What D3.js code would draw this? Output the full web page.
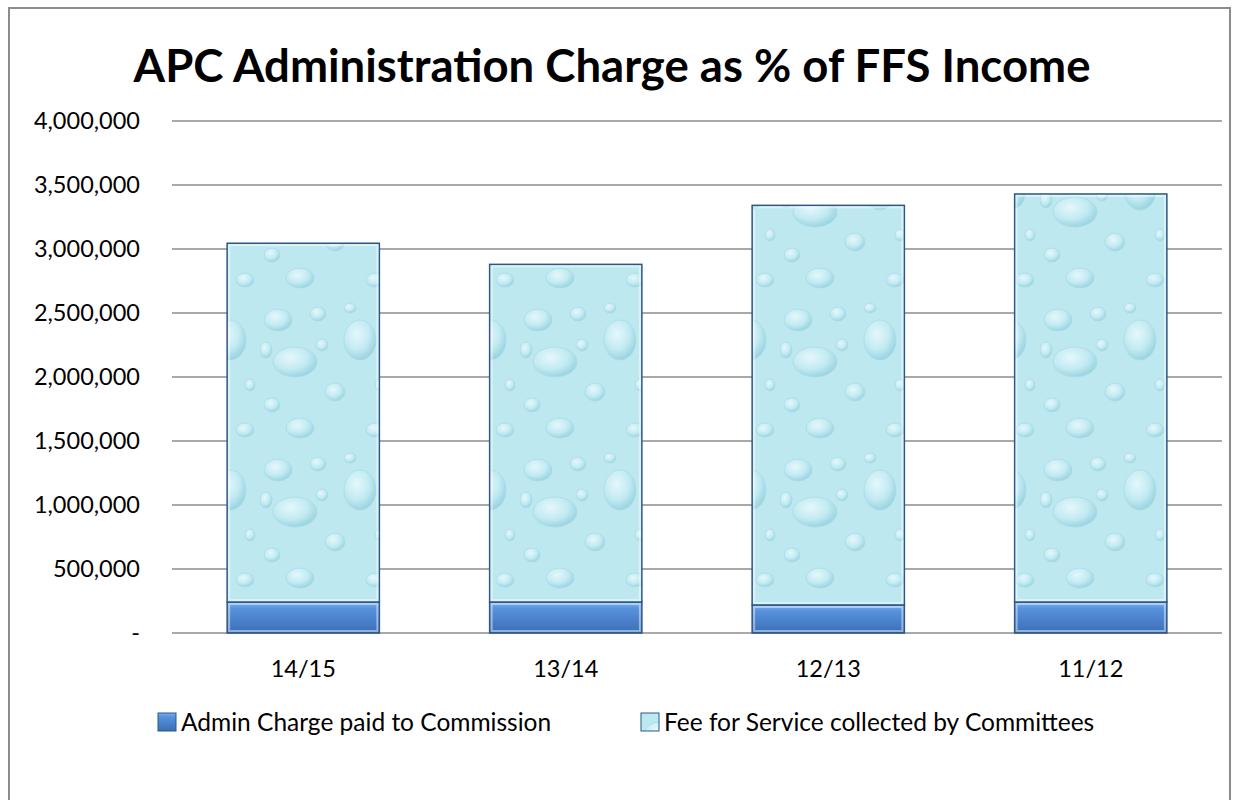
<!DOCTYPE html>
<html>
<head>
<meta charset="utf-8">
<script src="https://cdn.jsdelivr.net/npm/d3@7"></script>
<style>
  body { margin: 0; background: #fff; }
  text { font-family: Lato, "Open Sans", sans-serif; fill: #000; }
</style>
</head>
<body>
<div id="chart"></div>
<script>
// Chart data
const categories = ["14/15", "13/14", "12/13", "11/12"];
const adminCharge = [242000, 242000, 219000, 242000];
const feeForService = [2803000, 2638000, 3122000, 3188000];
const seriesNames = ["Admin Charge paid to Commission", "Fee for Service collected by Committees"];
const yTicks = [0, 500000, 1000000, 1500000, 2000000, 2500000, 3000000, 3500000, 4000000];

const width = 1239;
const height = 800;
const margin = { top: 121, right: 17, bottom: 167, left: 172 };

const svg = d3.select("#chart")
    .append("svg")
    .attr("width", width)
    .attr("height", height);

const defs = svg.append("defs");

// Admin bar gradient
const gAdmin = defs.append("linearGradient")
    .attr("id", "adminGrad").attr("x1", 0).attr("y1", 0).attr("x2", 0).attr("y2", 1);
gAdmin.append("stop").attr("offset", "0%").attr("stop-color", "#78b0f2");
gAdmin.append("stop").attr("offset", "22%").attr("stop-color", "#5791dc");
gAdmin.append("stop").attr("offset", "100%").attr("stop-color", "#3a6fb6");

// Water drop texture for fee bars
const dropGrad = defs.append("radialGradient")
    .attr("id", "dropGrad").attr("cx", "40%").attr("cy", "35%").attr("r", "65%");
dropGrad.append("stop").attr("offset", "0%").attr("stop-color", "#eefcff");
dropGrad.append("stop").attr("offset", "60%").attr("stop-color", "#c4ecf3");
dropGrad.append("stop").attr("offset", "100%").attr("stop-color", "#93d0de");

const pattern = defs.append("pattern")
    .attr("id", "drops")
    .attr("patternUnits", "userSpaceOnUse")
    .attr("width", 130).attr("height", 150);
pattern.append("rect").attr("width", 130).attr("height", 150).attr("fill", "#bde8f0");
const drops = [
    [18, 20, 14, 11], [58, 14, 8, 7], [100, 40, 16, 20], [35, 62, 22, 15],
    [75, 92, 10, 9], [12, 105, 8, 7], [115, 130, 9, 7], [62, 45, 6, 6],
    [6, 50, 6, 8], [40, 128, 14, 10], [90, 8, 6, 5], [120, 85, 5, 6]
];
pattern.selectAll("ellipse")
    .data(drops)
    .enter()
    .append("ellipse")
    .attr("cx", d => d[0]).attr("cy", d => d[1])
    .attr("rx", d => d[2]).attr("ry", d => d[3])
    .attr("fill", "url(#dropGrad)")
    .attr("stroke", "#a2d8e4")
    .attr("stroke-width", 0.8)
    .attr("opacity", 0.8);

// Outer border
svg.append("rect")
    .attr("x", 9).attr("y", 8)
    .attr("width", 1221).attr("height", 820)
    .attr("fill", "none")
    .attr("stroke", "#8c8c8c")
    .attr("stroke-width", 2);

// Title
svg.append("text")
    .attr("x", 612).attr("y", 82)
    .attr("text-anchor", "middle")
    .style("font-size", "45.5px")
    .style("font-weight", "bold")
    .text("APC Administration Charge as % of FFS Income");

const x = d3.scaleBand()
    .domain(categories)
    .range([margin.left, width - margin.right])
    .paddingInner(0.42)
    .paddingOuter(0.21);

const y = d3.scaleLinear()
    .domain([0, 4000000])
    .range([height - margin.bottom, margin.top]);

// Gridlines
svg.append("g")
    .selectAll("line")
    .data(yTicks)
    .enter()
    .append("line")
    .attr("x1", margin.left).attr("x2", width - margin.right)
    .attr("y1", d => y(d)).attr("y2", d => y(d))
    .attr("stroke", "#8c8c8c")
    .attr("stroke-width", 1.5);

// Y tick labels
const fmt = d3.format(",");
svg.append("g")
    .selectAll("text")
    .data(yTicks)
    .enter()
    .append("text")
    .attr("x", 140)
    .attr("y", d => y(d))
    .attr("dy", "0.35em")
    .attr("text-anchor", "end")
    .style("font-size", "23.5px")
    .text(d => d === 0 ? "-" : fmt(d));

// Stack the two series
const rows = categories.map((c, i) => ({ cat: c, admin: adminCharge[i], fee: feeForService[i] }));
const stack = d3.stack().keys(["admin", "fee"])(rows);
const fills = ["url(#adminGrad)", "url(#drops)"];

svg.append("g")
    .selectAll("g")
    .data(stack)
    .enter()
    .append("g")
    .attr("fill", (d, i) => fills[i])
    .selectAll("rect")
    .data(d => d)
    .enter()
    .append("rect")
    .attr("x", d => x(d.data.cat))
    .attr("y", d => y(d[1]))
    .attr("width", x.bandwidth())
    .attr("height", d => y(d[0]) - y(d[1]))
    .attr("stroke", "#2f5684")
    .attr("stroke-width", 1.5);

// Bevel highlight inside bars
svg.append("g")
    .selectAll("g")
    .data(stack)
    .enter()
    .append("g")
    .selectAll("rect")
    .data(d => d)
    .enter()
    .append("rect")
    .attr("x", d => x(d.data.cat) + 2)
    .attr("y", d => y(d[1]) + 2)
    .attr("width", x.bandwidth() - 4)
    .attr("height", d => y(d[0]) - y(d[1]) - 4)
    .attr("fill", "none")
    .attr("stroke", "rgba(255,255,255,0.45)")
    .attr("stroke-width", 2);

// X labels
svg.append("g")
    .selectAll("text")
    .data(categories)
    .enter()
    .append("text")
    .attr("x", d => x(d) + x.bandwidth() / 2)
    .attr("y", 677)
    .attr("text-anchor", "middle")
    .style("font-size", "23.5px")
    .text(d => d);

// Legend
const legendX = [158, 641];
const legend = svg.append("g")
    .selectAll("g")
    .data(seriesNames)
    .enter()
    .append("g")
    .attr("transform", (d, i) => `translate(${legendX[i]},713)`);

legend.append("rect")
    .attr("width", 18).attr("height", 18)
    .attr("fill", (d, i) => fills[i])
    .attr("stroke", "#2f5684")
    .attr("stroke-width", 1);

legend.append("text")
    .attr("x", 23).attr("y", 9)
    .attr("dy", "0.35em")
    .style("font-size", "24.5px")
    .text(d => d);
</script>
</body>
</html>
